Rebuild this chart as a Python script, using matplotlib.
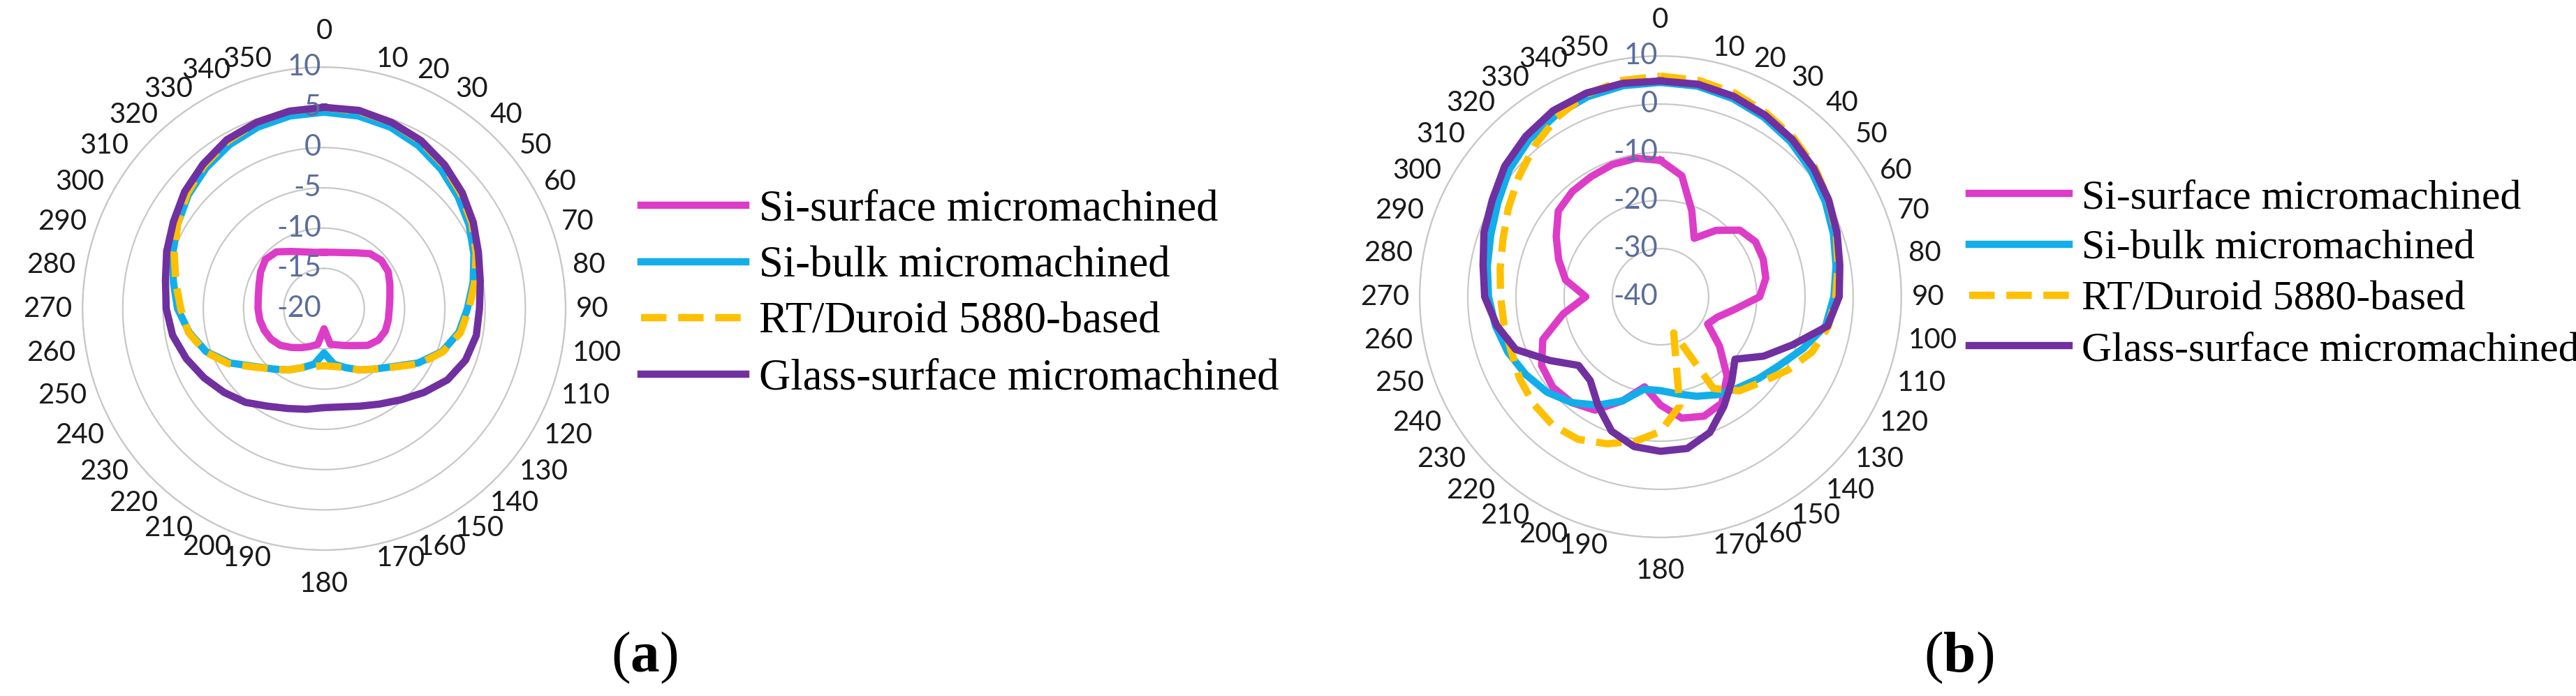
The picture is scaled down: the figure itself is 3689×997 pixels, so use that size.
import numpy as np
import matplotlib.pyplot as plt

plt.rcParams['mathtext.fontset'] = 'custom'
plt.rcParams['mathtext.rm'] = 'Liberation Serif'
plt.rcParams['mathtext.bf'] = 'Liberation Serif:bold'

angles = np.arange(0, 360, 10)
angle_labels = [str(a) for a in angles]
series_names = ['Si-surface micromachined', 'Si-bulk micromachined',
                'RT/Duroid 5880-based', 'Glass-surface micromachined']

# panel (a), gain in dB at 0..350 deg
si_surf_a = [-13.0, -12.9, -12.6, -12.0, -11.1, -10.7, -10.8, -11.3, -11.7, -11.9, -11.9, -11.9,
             -12.2, -12.9, -14.0, -14.7, -15.2, -15.5, -17.5, -15.5, -15.0, -14.4, -13.7, -12.9,
             -12.4, -12.1, -11.9, -11.8, -11.7, -11.4, -10.9, -10.5, -10.8, -11.8, -12.5, -12.9]
si_bulk_a = [4.4, 4.3, 4.0, 3.4, 2.6, 1.7, 0.8, -0.2, -1.2, -2.2, -3.0, -4.4,
             -6.5, -8.8, -10.2, -11.2, -12.2, -13.0, -14.5, -13.0, -12.2, -11.2, -10.2, -8.8,
             -6.5, -4.4, -3.0, -1.8, -1.0, 0.0, 1.0, 2.0, 2.8, 3.5, 4.0, 4.3]
duroid_a = [5.0, 4.9, 4.6, 4.0, 3.2, 2.2, 1.2, 0.1, -1.0, -2.0, -2.8, -4.3,
            -6.3, -8.7, -10.2, -11.2, -12.2, -12.7, -12.9, -12.7, -12.2, -11.2, -10.2, -8.7,
            -6.3, -4.3, -2.9, -2.2, -1.3, -0.2, 1.0, 2.2, 3.2, 4.0, 4.6, 4.9]
glass_a = [5.0, 5.0, 4.6, 4.1, 3.3, 2.4, 1.4, 0.4, -0.3, -0.7, -0.8, -1.3,
           -2.3, -3.8, -5.2, -6.3, -7.1, -7.6, -7.7, -7.3, -6.8, -6.0, -4.8, -3.8,
           -2.8, -1.8, -0.9, -0.4, 0.0, 0.8, 1.6, 2.6, 3.4, 4.2, 4.6, 4.9]

# panel (b)
si_surf_b = [-11.7, -14.5, -21.0, -26.0, -22.0, -18.5, -17.2, -17.3, -17.8, -19.4, -24.5, -27.5,
             -28.7, -24.0, -18.5, -14.5, -13.6, -14.4, -17.5, -21.0, -17.0, -12.8, -11.3, -10.8,
             -11.5, -14.0, -19.5, -24.5, -20.0, -17.5, -15.0, -12.3, -11.5, -11.2, -10.8, -10.8]
si_bulk_b = [4.5, 4.4, 3.8, 3.0, 2.0, 0.8, -0.5, -1.8, -3.0, -4.0, -5.2, -8.5,
             -11.5, -13.5, -15.2, -16.5, -18.0, -19.5, -20.5, -20.5, -17.0, -14.0, -11.3, -9.2,
             -7.7, -6.3, -5.2, -4.3, -3.5, -2.5, -1.0, 1.0, 2.5, 3.5, 4.2, 4.5]
duroid_b = [5.8, 5.6, 5.0, 4.0, 3.0, 1.8, 0.3, -1.2, -2.6, -3.6, -4.6, -6.5,
            -9.5, -12.5, -14.5, -18.0, -32.0, -17.0, -12.0, -9.5, -7.5, -5.8, -5.2, -5.5,
            -6.2, -7.0, -7.0, -6.8, -6.2, -5.2, -3.5, -1.5, 0.8, 3.0, 4.8, 5.6]
glass_b = [4.8, 4.8, 4.3, 3.5, 2.6, 1.5, 0.3, -1.0, -2.2, -2.9, -4.8, -10.8,
           -15.3, -19.8, -17.0, -13.7, -10.0, -8.0, -7.9, -8.4, -10.3, -14.0, -17.3, -17.8,
           -13.5, -8.0, -5.5, -3.5, -2.6, -1.0, 0.3, 2.2, 3.5, 4.6, 5.0, 5.0]

rings_a = [10, 5, 0, -5, -10, -15, -20]
rings_b = [10, 0, -10, -20, -30, -40]

colors = ['#DD3CC8', '#12AEEA', '#FFC000', '#7030A0']
styles = ['-', '-', (0, (3.5, 1.6)), '-']
PX = 0.72  # points per pixel at dpi 100


def angle_label(ax, deg, text, rmax):
    # excel-like placement: box corner hugs the outer ring
    t = np.deg2rad(deg)
    if deg == 0:
        ha, dx, dy = 'center', 0, 52
    elif deg == 180:
        ha, dx, dy = 'center', 0, -48
    else:
        ha = 'left' if deg < 180 else 'right'
        dx = 15 if deg < 180 else -15
        dy = 17 * np.cos(t)
    ax.annotate(text, xy=(t, rmax), xytext=(dx * PX, dy * PX), textcoords='offset points',
                ha=ha, va='center', fontsize=29, family='Lato', color='#1a1a1a',
                annotation_clip=False)


def polar_panel(rect, data, rings, leg_anchor, leg_size, spacing):
    ax = fig.add_axes(rect, projection='polar')
    ax.set_theta_zero_location('N')
    ax.set_theta_direction(-1)
    th = np.deg2rad(np.append(angles, 360))
    for vals, name, c, ls in zip(data, series_names, colors, styles):
        r = np.append(vals, vals[0])
        ax.plot(th, r, color=c, lw=7.5, ls=ls, label=name, solid_joinstyle='round')
    ax.set_ylim(min(rings), max(rings))
    ax.set_rgrids(rings, labels=['' for _ in rings])
    ax.yaxis.grid(True, color='#C8C8C8', lw=1.6)
    ax.xaxis.grid(False)
    ax.set_xticks(np.deg2rad(angles))
    ax.set_xticklabels([])
    ax.tick_params(axis='x', length=0)
    ax.spines['polar'].set_color('#C8C8C8')
    ax.spines['polar'].set_linewidth(1.6)
    for a, lbl in zip(angles, angle_labels):
        angle_label(ax, a, lbl, max(rings))
    for v in rings:
        ax.annotate(str(v), xy=(0, v), xytext=(-3, 0), textcoords='offset points',
                    ha='right', va='center', fontsize=30, family='Lato', color='#5A6E9C')
    ax.legend(loc='center left', bbox_to_anchor=leg_anchor, bbox_transform=fig.transFigure,
              frameon=False, prop={'family': 'Liberation Serif', 'size': leg_size},
              handlelength=2.4, handletextpad=0.3, labelspacing=spacing,
              borderpad=0, borderaxespad=0)
    return ax


fig = plt.figure(figsize=(36.89, 9.97), dpi=100)

polar_panel([0.032, 0.2096, 0.1876, 0.694],
            [si_surf_a, si_bulk_a, duroid_a, glass_a], rings_a, (918 / 3689, 0.577), 45, 0.36)
polar_panel([0.5511, 0.2277, 0.1870, 0.692],
            [si_surf_b, si_bulk_b, duroid_b, glass_b], rings_b, (2820 / 3689, 0.606), 43, 0.3)

fig.text(923 / 3689, 0.055, r'($\mathbf{a}$)', ha='center', va='center',
         fontsize=60, family='Liberation Serif')
fig.text(2805 / 3689, 0.055, r'($\mathbf{b}$)', ha='center', va='center',
         fontsize=60, family='Liberation Serif')

fig.savefig('out.png', dpi=100, facecolor='white')
